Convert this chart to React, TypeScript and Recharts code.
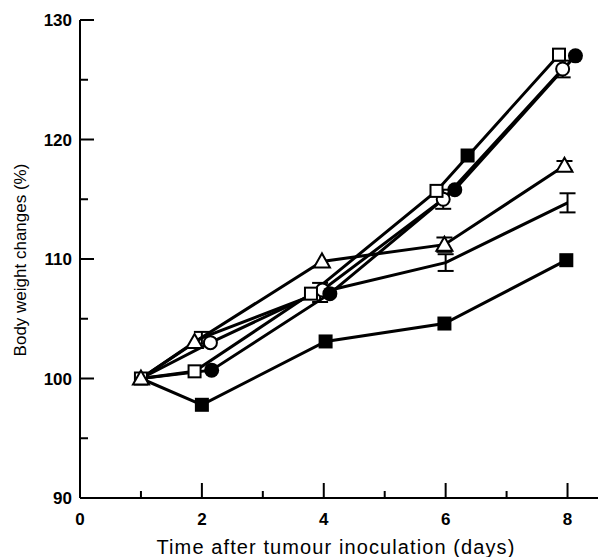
import React from 'react';
import { LineChart, Line, XAxis, YAxis, ErrorBar } from 'recharts';

// days after inoculation (points are slightly offset in the original figure)
const openSquareX = [1, 1.88, 3.79, 5.85, 7.86];
const openSquareY = [100, 100.6, 107.1, 115.7, 127.1];

const filledCircleX = [1, 2.16, 4.1, 6.15, 8.13];
const filledCircleY = [100, 100.7, 107.1, 115.8, 127.0];

const openCircleX = [1, 2.14, 3.98, 5.96, 7.92];
const openCircleY = [100, 103.0, 107.4, 115.0, 125.9];
const openCircleErr = [null, null, null, 0.8, 0.7];

const triangleX = [1, 1.88, 3.97, 5.98, 7.95];
const triangleY = [100, 103.05, 109.8, 111.2, 117.8];
const triangleErr = [null, null, null, 0.6, 0.4];

const plainX = [1, 2, 3.94, 6, 8];
const plainY = [100, 103.4, 107.2, 109.7, 114.7];
const plainErr = [null, 0.5, 0.8, 0.7, 0.8];

const filledSquareX = [1, 2, 4.03, 5.98, 7.98];
const filledSquareY = [100, 97.8, 103.1, 104.6, 109.9];

const strayX = [6.36];
const strayY = [118.66];

const xTicks = [0, 1, 2, 3, 4, 5, 6, 7, 8];
const yTicks = [90, 95, 100, 105, 110, 115, 120, 125, 130];

const FONT = '"Liberation Sans", Arial, sans-serif';

const build = (xs: number[], ys: number[], errs?: (number | null)[]) =>
  xs.map((x, i) => ({ x, y: ys[i], err: errs ? errs[i] : null }));

type Kind = 'openSquare' | 'filledSquare' | 'openCircle' | 'filledCircle' | 'triangle' | 'none';

const makeDot = (kind: Kind, showFirst: boolean) => (p: any) => {
  const { cx, cy, index } = p;
  const key = `${kind}-${index}`;
  if (kind === 'none' || (!showFirst && index === 0) || cx == null || cy == null) return <g key={key} />;
  switch (kind) {
    case 'openSquare':
      return <rect key={key} x={cx - 6} y={cy - 6} width={12} height={12} fill="#fff" stroke="#000" strokeWidth={2} />;
    case 'filledSquare':
      return <rect key={key} x={cx - 7} y={cy - 7} width={14} height={14} fill="#000" />;
    case 'openCircle':
      return <circle key={key} cx={cx} cy={cy} r={6.5} fill="#fff" stroke="#000" strokeWidth={2} />;
    case 'filledCircle':
      return <circle key={key} cx={cx} cy={cy} r={7.5} fill="#000" />;
    case 'triangle':
      return (
        <polygon
          key={key}
          points={`${cx},${cy - 8} ${cx - 8},${cy + 6} ${cx + 8},${cy + 6}`}
          fill="#fff"
          stroke="#000"
          strokeWidth={2}
        />
      );
  }
  return <g key={key} />;
};

const XTick = (props: any) => {
  const { x, y, payload } = props;
  const v = payload.value;
  const major = v % 2 === 0;
  return (
    <g>
      {v !== 0 && (
        <line x1={x} x2={x} y1={y} y2={y - (major ? 15 : 7)} stroke="#000" strokeWidth={2} />
      )}
      {major && (
        <text x={x} y={y + 27} textAnchor="middle" fontFamily={FONT} fontWeight="bold" fontSize={17} fill="#000">
          {v}
        </text>
      )}
    </g>
  );
};

const YTick = (props: any) => {
  const { x, y, payload } = props;
  const v = payload.value;
  const major = v % 10 === 0;
  return (
    <g>
      {v !== 90 && (
        <line x1={x} x2={x + (major ? 14 : 8)} y1={y} y2={y} stroke="#000" strokeWidth={2} />
      )}
      {major && (
        <text x={x - 8} y={y + 6} textAnchor="end" fontFamily={FONT} fontWeight="bold" fontSize={17} fill="#000">
          {v}
        </text>
      )}
    </g>
  );
};

const series = [
  { name: 'plain', data: build(plainX, plainY, plainErr), kind: 'none' as Kind, first: false },
  { name: 'filledSquare', data: build(filledSquareX, filledSquareY), kind: 'filledSquare' as Kind, first: false },
  { name: 'openCircle', data: build(openCircleX, openCircleY, openCircleErr), kind: 'openCircle' as Kind, first: false },
  { name: 'filledCircle', data: build(filledCircleX, filledCircleY), kind: 'filledCircle' as Kind, first: false },
  { name: 'openSquare', data: build(openSquareX, openSquareY), kind: 'openSquare' as Kind, first: true },
  { name: 'triangle', data: build(triangleX, triangleY, triangleErr), kind: 'triangle' as Kind, first: true },
];

export default function App() {
  return (
    <div style={{ position: 'absolute', left: 0, top: 0, background: '#fff' }}>
      <LineChart width={601} height={557} margin={{ top: 20, right: 3, left: 0, bottom: 0 }}>
        <XAxis
          type="number"
          dataKey="x"
          domain={[0, 8.5]}
          ticks={xTicks}
          interval={0}
          allowDataOverflow
          tick={<XTick />}
          tickLine={false}
          tickSize={0}
          tickMargin={0}
          height={59}
          axisLine={{ stroke: '#000', strokeWidth: 2 }}
          label={{
            content: () => (
              <text
                x={336}
                y={554}
                textAnchor="middle"
                fontFamily={FONT}
                fontSize={20}
                letterSpacing={1.1}
                fontWeight={500}
                fill="#000"
              >
                Time after tumour inoculation (days)
              </text>
            ),
          }}
        />
        <YAxis
          type="number"
          dataKey="y"
          domain={[90, 130]}
          ticks={yTicks}
          interval={0}
          allowDataOverflow
          tick={<YTick />}
          tickLine={false}
          tickSize={0}
          tickMargin={0}
          width={80}
          axisLine={{ stroke: '#000', strokeWidth: 2 }}
          label={{
            content: () => (
              <text
                x={26}
                y={260}
                transform="rotate(-90 26 260)"
                textAnchor="middle"
                fontFamily={FONT}
                fontSize={17}
                fill="#000"
              >
                Body weight changes (%)
              </text>
            ),
          }}
        />
        {series.map((s) => (
          <Line
            key={s.name}
            data={s.data}
            dataKey="y"
            type="linear"
            stroke="#000"
            strokeWidth={3}
            dot={makeDot(s.kind, s.first)}
            activeDot={false}
            isAnimationActive={false}
          >
            <ErrorBar dataKey="err" direction="y" width={8} strokeWidth={2} stroke="#000" />
          </Line>
        ))}
        <Line
          data={build(strayX, strayY)}
          dataKey="y"
          stroke="none"
          dot={makeDot('filledSquare', true)}
          activeDot={false}
          isAnimationActive={false}
        />
      </LineChart>
    </div>
  );
}
